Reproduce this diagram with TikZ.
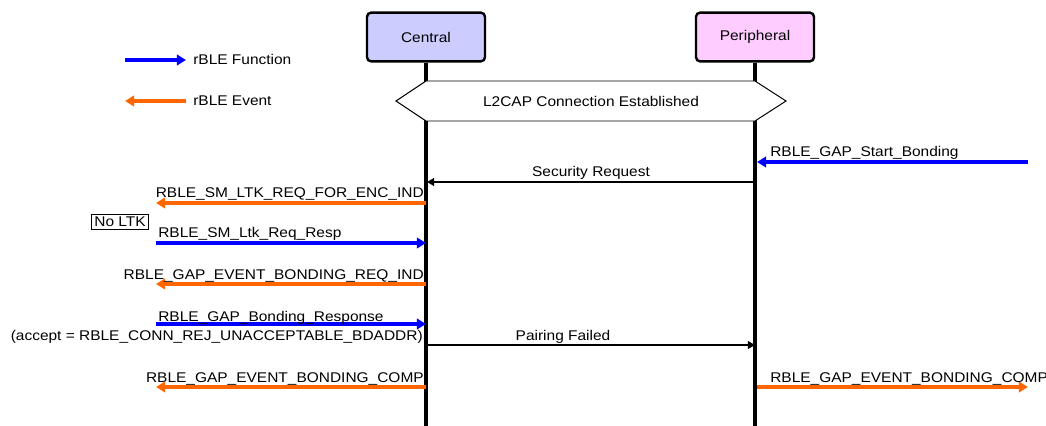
\documentclass[tikz,border=0pt]{standalone}
\usepackage{fontspec}
\setmainfont{Liberation Sans}[FakeStretch=1.1]
\usetikzlibrary{arrows.meta}

\definecolor{fnblue}{RGB}{0,0,255}
\definecolor{evorange}{RGB}{255,102,0}
\definecolor{cenfill}{RGB}{204,204,255}
\definecolor{perfill}{RGB}{255,204,255}

\tikzset{
  ent/.style={draw, line width=1.7pt, rounded corners=3pt,
    minimum width=2.95cm, minimum height=1.22cm},
  life/.style={line width=2.2pt},
  fn/.style={color=fnblue, line width=2.6pt, -{Triangle[length=6.5pt,width=7.5pt]}},
  ev/.style={color=evorange, line width=2.6pt, -{Triangle[length=6.5pt,width=7.5pt]}},
  msg/.style={line width=1.1pt, -{Triangle[length=5pt,width=5.5pt]}},
  lbl/.style={inner sep=0pt}
}

\begin{document}
\begin{tikzpicture}[x=0.025cm, y=-0.025cm, font=\fontsize{10}{12}\selectfont]
   \useasboundingbox (0,0) rectangle (1046,426);

   % legend
   \coordinate (lf1) at (125,60);  \coordinate (lf2) at (186,60);
   \coordinate (le1) at (186,101); \coordinate (le2) at (125,101);
   \draw[fn] (lf1) -- (lf2);
   \draw[ev] (le1) -- (le2);
   \node[lbl, anchor=base west] (lfn) at (193,65) {rBLE Function};
   \node[lbl, anchor=base west] (lev) at (193,106) {rBLE Event};

   % the two devices and their lifelines
   \node[ent, fill=cenfill] (central) at (426,37) {Central};
   \node[ent, fill=perfill] (periph) at (755,37) {Peripheral};
   \coordinate (cbot) at (426,426);
   \coordinate (pbot) at (755,426);
   \draw[life] (central) -- (cbot);
   \draw[life] (periph) -- (pbot);

   % connection established
   \draw[fill=white, line width=0.7pt] (396,101) -- (426,81) -- (755,81)
      -- (786,101) -- (755,121) -- (426,121) -- cycle;
   \node (l2cap) at (591,101) {L2CAP Connection Established};

   % bonding start
   \coordinate (app1) at (1028,162); \coordinate (p1) at (757,162);
   \draw[fn] (app1) -- (p1);
   \node[lbl, anchor=base west] (m1) at (770,157) {RBLE\_GAP\_Start\_Bonding};

   \coordinate (p2) at (755,182); \coordinate (c2) at (427,182);
   \draw[msg] (p2) -- (c2);
   \node[lbl, anchor=base] (m2) at (591,177) {Security Request};

   \coordinate (c3) at (426,203); \coordinate (h3) at (156,203);
   \draw[ev] (c3) -- (h3);
   \node[lbl, anchor=base east] (m3) at (424,198) {RBLE\_SM\_LTK\_REQ\_FOR\_ENC\_IND};

   \node[draw, line width=0.7pt, inner sep=2pt] (noltk) at (120,222) {No LTK};

   \coordinate (h4) at (156,243); \coordinate (c4) at (426,243);
   \draw[fn] (h4) -- (c4);
   \node[lbl, anchor=base west] (m4) at (158,238) {RBLE\_SM\_Ltk\_Req\_Resp};

   \coordinate (c5) at (426,284); \coordinate (h5) at (156,284);
   \draw[ev] (c5) -- (h5);
   \node[lbl, anchor=base east] (m5) at (424,279) {RBLE\_GAP\_EVENT\_BONDING\_REQ\_IND};

   % rejected bonding
   \coordinate (h6) at (156,324); \coordinate (c6) at (426,324);
   \draw[fn] (h6) -- (c6);
   \node[lbl, anchor=base west] (m6) at (158,321) {RBLE\_GAP\_Bonding\_Response};
   \node[lbl, anchor=base east] (m6b) at (423,340) {(accept = RBLE\_CONN\_REJ\_UNACCEPTABLE\_BDADDR)};

   \coordinate (c7) at (427,345); \coordinate (p7) at (755,345);
   \draw[msg] (c7) -- (p7);
   \node[lbl, anchor=base] (m7) at (563,340) {Pairing Failed};

   \coordinate (c8) at (426,387); \coordinate (h8) at (156,387);
   \draw[ev] (c8) -- (h8);
   \node[lbl, anchor=base east] (m8) at (424,382) {RBLE\_GAP\_EVENT\_BONDING\_COMP};

   \coordinate (p9) at (757,387); \coordinate (app9) at (1028,387);
   \draw[ev] (p9) -- (app9);
   \node[lbl, anchor=base west] (m9) at (770,382) {RBLE\_GAP\_EVENT\_BONDING\_COMP};
\end{tikzpicture}
\end{document}
